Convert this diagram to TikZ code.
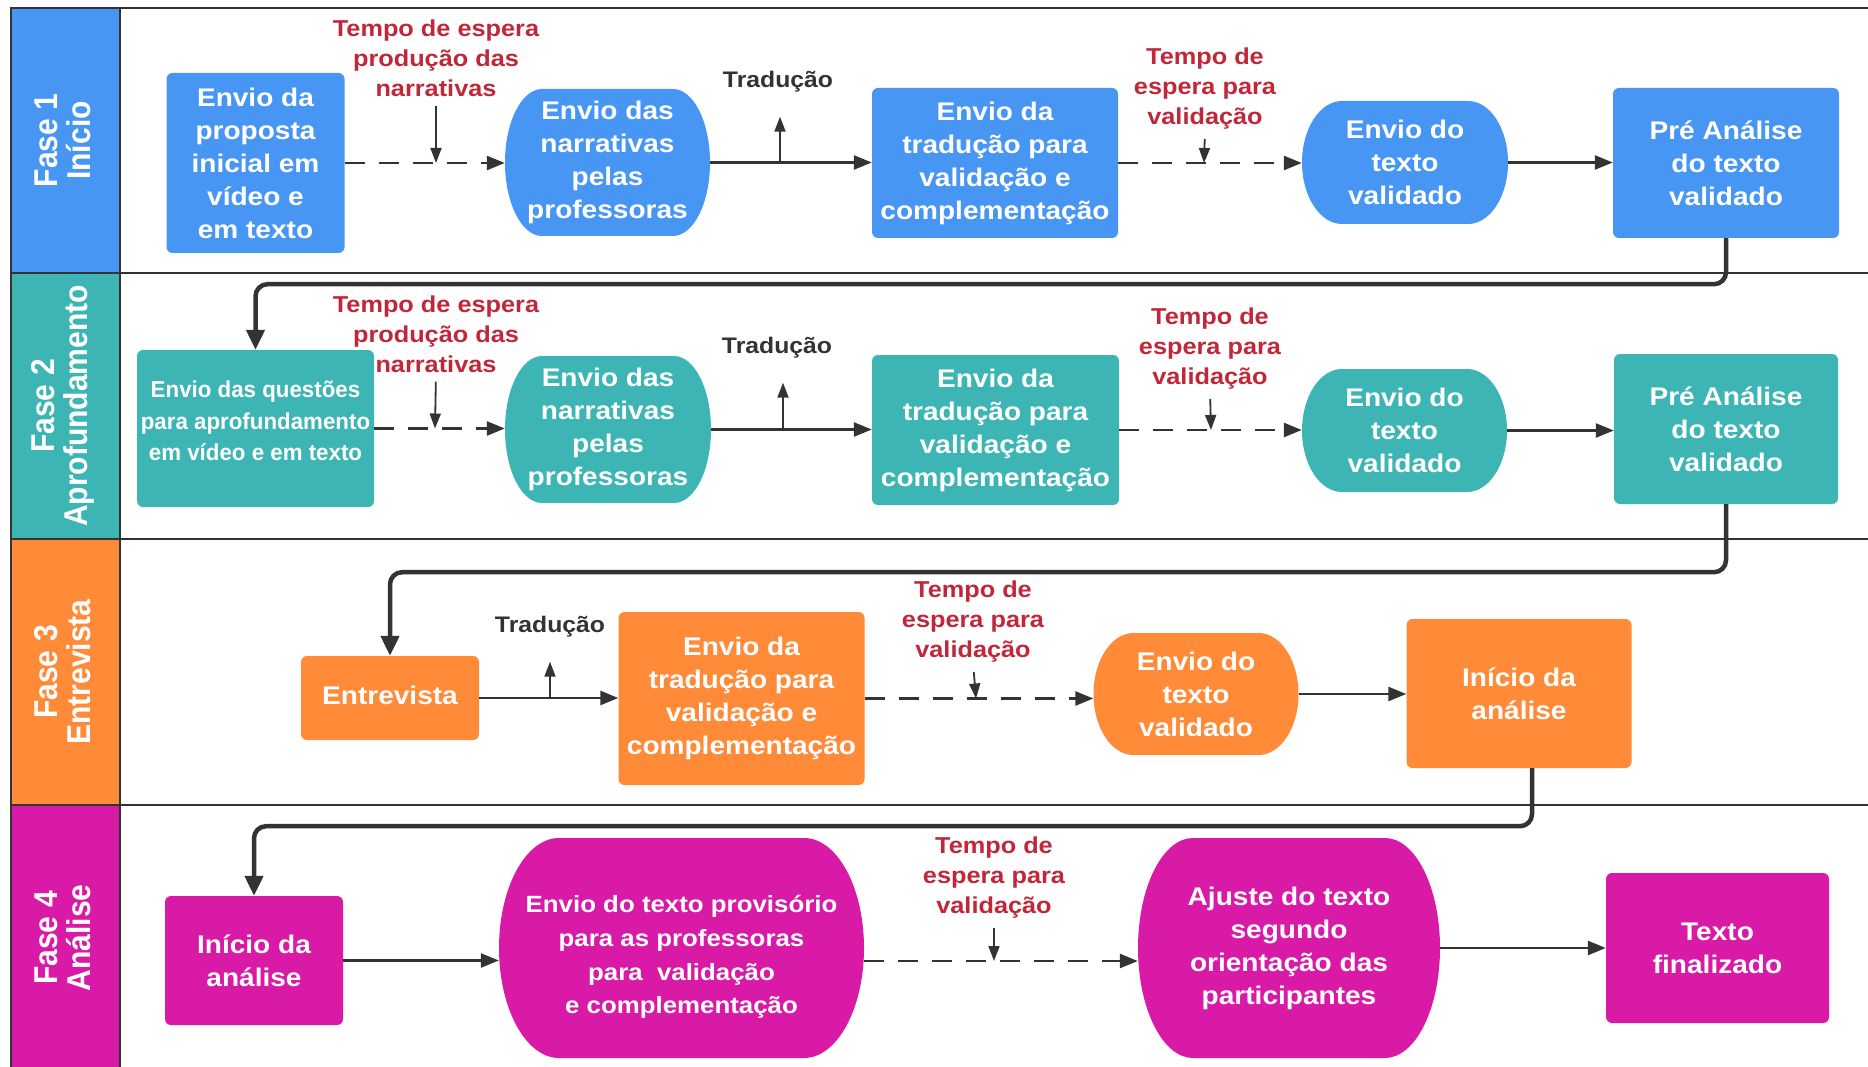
\documentclass[tikz,border=0pt]{standalone}
\usepackage{fontspec}
\setmainfont{Liberation Sans}[FakeStretch=1.1]
\newfontfamily\lanesans{Liberation Sans}[FakeStretch=0.91]
\newfontfamily\condsans{Liberation Sans}[FakeStretch=0.97]
\usetikzlibrary{arrows.meta,calc}
\definecolor{cblue}{HTML}{4896F3}
\definecolor{cteal}{HTML}{3DB5B5}
\definecolor{corange}{HTML}{FF8A38}
\definecolor{cmag}{HTML}{D91AA7}
\definecolor{cred}{HTML}{C0283A}
\definecolor{cline}{HTML}{333333}
\tikzset{
 lane/.style={draw=cline, line width=2.5pt},
 box/.style={rectangle, rounded corners=6pt, inner sep=0pt, text=white, align=center,
   font=\bfseries\fontsize{25.5pt}{33pt}\selectfont},
 stxt/.style={rectangle, inner sep=0pt, text=white, align=center,
   font=\bfseries\fontsize{25.5pt}{33pt}\selectfont},
 wait/.style={text=cred, align=center, inner sep=0pt, font=\bfseries\fontsize{23pt}{30pt}\selectfont},
 trad/.style={text=cline, inner sep=0pt, font=\bfseries\fontsize{22.5pt}{27pt}\selectfont},
 flow/.style={draw=cline, line width=2.5pt, -{Triangle[length=18pt,width=14pt]}},
 dflow/.style={flow, dash pattern=on 20pt off 14pt},
 note/.style={draw=cline, line width=1.8pt, shorten <=9pt, -{Triangle[length=15pt,width=11pt]}},
 upnote/.style={draw=cline, line width=1.8pt, shorten >=24pt, -{Triangle[length=15pt,width=11pt]}},
 loopflow/.style={draw=cline, line width=4.5pt, rounded corners=12pt, -{Triangle[length=20pt,width=18pt]}},
 lanelabel/.style={rotate=90, text=white, align=center, inner sep=0pt,
   font=\lanesans\bfseries\fontsize{33pt}{33pt}\selectfont}
}
\newcommand\stadium[8]{%
 \fill[#7] ({#2-#4/2+#6},{#3+#5/2}) -- ({#2+#4/2-#6},{#3+#5/2})
   arc[start angle=90,end angle=-90,x radius=#6,y radius={#5/2}]
   -- ({#2-#4/2+#6},{#3-#5/2})
   arc[start angle=270,end angle=90,x radius=#6,y radius={#5/2}] -- cycle;
 \node[stxt, minimum width=#4pt, minimum height=#5pt] (#1) at (#2,#3) {#8};
}
\begin{document}
\begin{tikzpicture}[x=1pt,y=1pt]
\useasboundingbox (0,0) rectangle (1868,-1067);
\fill[white] (0,0) rectangle (1868,-1067);
% lanes
\fill[cblue] (11,-8) rectangle (120,-273);
\fill[cteal] (11,-273) rectangle (120,-539);
\fill[corange] (11,-539) rectangle (120,-805);
\fill[cmag] (11,-805) rectangle (120,-1067);
\draw[lane] (11,-1070) -- (11,-8) -- (1870,-8);
\draw[lane] (120,-8) -- (120,-1070);
\draw[lane] (11,-273) -- (1870,-273);
\draw[lane] (11,-539) -- (1870,-539);
\draw[lane] (11,-805) -- (1870,-805);
\node[lanelabel] (F1) at (63,-140.5) {Fase 1\\Início};
\node[lanelabel] (F2) at (63,-406) {Fase 2\\Aprofundamento};
\node[lanelabel] (F3) at (63,-672) {Fase 3\\Entrevista};
\node[lanelabel] (F4) at (63,-938) {Fase 4\\Análise};

% ---- Lane 1
\node[box, fill=cblue, minimum width=178pt, minimum height=180pt] (B1) at (255.5,-163)
  {Envio da\\proposta\\inicial em\\vídeo e\\em texto};
\node[wait] (W1) at (436,-58) {Tempo de espera\\produção das\\narrativas};
\stadium{E1}{607.5}{-162.5}{205}{147}{37}{cblue}{Envio das\\narrativas\\pelas\\professoras}
\node[trad] (T1) at (778,-82) {Tradução};
\node[box, fill=cblue, minimum width=246pt, minimum height=150pt] (B2) at (995,-163)
  {Envio da\\tradução para\\validação e\\complementação};
\node[wait] (W2) at (1205,-89) {Tempo de\\espera para\\validação};
\stadium{E2}{1405}{-162.5}{206}{123}{40}{cblue}{Envio do\\texto\\validado}
\node[box, fill=cblue, minimum width=226pt, minimum height=150pt] (B3) at (1726,-163)
  {Pré Análise\\do texto\\validado};

\draw[dflow] (B1.east) -- (B1.east -| E1.west);
\coordinate (w1b) at (436,-163);
\draw[note] (W1.south) -- (w1b);
\draw[flow] (E1.east) -- (E1.east -| B2.west);
\coordinate (q1) at (780,-163);
\draw[upnote] (q1) -- (q1 |- T1.south);
\draw[dflow] (B2.east) -- (B2.east -| E2.west);
\coordinate (w2b) at (1204,-163);
\draw[note] (W2.south) -- (w2b);
\draw[flow] (E2.east) -- (E2.east -| B3.west);

% ---- Lane 2
\node[box, fill=cteal, minimum width=237pt, minimum height=157pt] (B4) at (255.5,-428.5) {};
\node[stxt, font=\condsans\bfseries\fontsize{23pt}{31.5pt}\selectfont] (B4t) at (255.5,-421)
  {Envio das questões\\para aprofundamento\\em vídeo e em texto};
\node[wait] (W3) at (436,-334) {Tempo de espera\\produção das\\narrativas};
\stadium{E3}{608}{-429.5}{206}{147}{37}{cteal}{Envio das\\narrativas\\pelas\\professoras}
\node[trad] (T2) at (777,-348) {Tradução};
\node[box, fill=cteal, minimum width=247pt, minimum height=150pt] (B5) at (995.5,-430)
  {Envio da\\tradução para\\validação e\\complementação};
\node[wait] (W4) at (1210,-349) {Tempo de\\espera para\\validação};
\stadium{E4}{1404.5}{-430.5}{205}{123}{40}{cteal}{Envio do\\texto\\validado}
\node[box, fill=cteal, minimum width=224pt, minimum height=150pt] (B6) at (1726,-429)
  {Pré Análise\\do texto\\validado};

\draw[dflow] (B4.east) -- (B4.east -| E3.west);
\coordinate (w3b) at (435,-428.5);
\draw[note] (W3.south) -- (w3b);
\draw[flow] (E3.east) -- (E3.east -| B5.west);
\coordinate (q2) at (783,-429.5);
\draw[upnote] (q2) -- (q2 |- T2.south);
\draw[dflow] (B5.east) -- (B5.east -| E4.west);
\coordinate (w4b) at (1211,-430);
\draw[note] (W4.south) -- (w4b);
\draw[flow] (E4.east) -- (E4.east -| B6.west);

% ---- Lane 3
\node[box, fill=corange, minimum width=178pt, minimum height=84pt] (B7) at (390,-698) {};
\node[stxt] (B7t) at (390,-695) {Entrevista};
\node[trad] (T3) at (550,-627) {Tradução};
\node[box, fill=corange, minimum width=246pt, minimum height=173pt] (B8) at (741.5,-698.5)
  {Envio da\\tradução para\\validação e\\complementação};
\node[wait] (W5) at (973,-622) {Tempo de\\espera para\\validação};
\stadium{E5}{1196}{-694}{205}{122}{40}{corange}{Envio do\\texto\\validado}
\node[box, fill=corange, minimum width=225pt, minimum height=149pt] (B9) at (1519,-693.5)
  {Início da\\análise};

\draw[flow] (B7.east) -- (B7.east -| B8.west);
\coordinate (q3) at (550,-698);
\draw[upnote] (q3) -- (q3 |- T3.south);
\draw[dflow] (B8.east) -- (B8.east -| E5.west);
\coordinate (w5b) at (976,-698.5);
\draw[note] (W5.south) -- (w5b);
\draw[flow] (E5.east) -- (E5.east -| B9.west);

% ---- Lane 4
\node[box, fill=cmag, minimum width=178pt, minimum height=129pt] (B10) at (254,-960.5)
  {Início da\\análise};
\stadium{E6}{681.5}{-948}{365}{220}{60}{cmag}{}
\node[stxt, font=\bfseries\fontsize{23.5pt}{33.7pt}\selectfont] (E6t) at (681.5,-957)
  {Envio do texto provisório\\para as professoras\\para\ \ validação\\e complementação};
\node[wait] (W6) at (994,-878) {Tempo de\\espera para\\validação};
\stadium{E7}{1289}{-948}{302}{220}{55}{cmag}{Ajuste do texto\\segundo\\orientação das\\participantes}
\node[box, fill=cmag, minimum width=223pt, minimum height=150pt] (B11) at (1717.5,-948)
  {Texto\\finalizado};

\draw[flow] (B10.east) -- (B10.east -| E6.west);
\coordinate (e6o) at ($(E6.east)+(0,-13)$);
\draw[dflow] (e6o) -- (e6o -| E7.west);
\coordinate (w6b) at (994,-961);
\draw[note] (W6.south) -- (w6b);
\draw[flow] (E7.east) -- (E7.east -| B11.west);

% ---- phase connectors
\draw[loopflow] (B3.south) -- ++(0,-46) -| (B4.north);
\draw[loopflow] (B6.south) -- ++(0,-68) -| (B7.north);
\coordinate (b9s) at ($(B9.south)+(13,0)$);
\draw[loopflow] (b9s) -- ++(0,-58) -| (B10.north);
\end{tikzpicture}
\end{document}
